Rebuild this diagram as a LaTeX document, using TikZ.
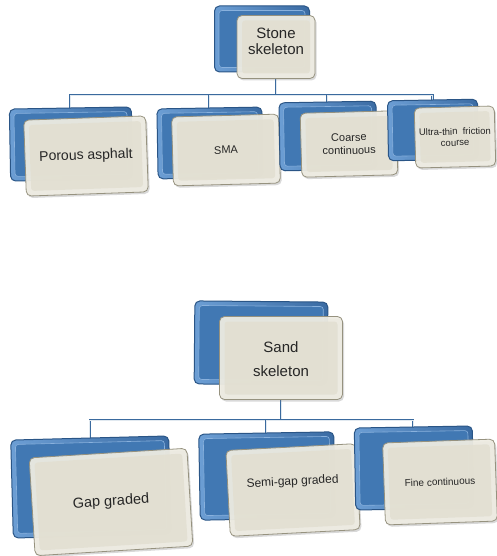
\documentclass[tikz,border=0pt]{standalone}
\usepackage{fontspec}
\setmainfont{Liberation Sans}
\usetikzlibrary{shadows,backgrounds}

\definecolor{rim}{HTML}{2A5586}
\definecolor{blueA}{HTML}{6C9ED4}
\definecolor{blueB}{HTML}{3A6BA3}
\definecolor{blueIn}{HTML}{4178B3}
\definecolor{paper}{HTML}{EEECE2}
\definecolor{paperIn}{HTML}{E2DFD1}
\definecolor{paperRim}{HTML}{96927F}
\definecolor{wire}{HTML}{3A6A9E}

\tikzset{
  backouter/.style={draw=rim, line width=1pt, left color=blueA, right color=blueB,
    rounded corners=5pt, inner sep=0pt},
  backinner/.style={fill=blueIn, draw=blueA!80!white, line width=0.6pt, rounded corners=3pt, inner sep=0pt},
  frontouter/.style={draw=paperRim, line width=0.8pt, fill=paper, fill opacity=0.94,
    rounded corners=5pt, inner sep=0pt,
    drop shadow={shadow xshift=1.5pt, shadow yshift=-2pt, opacity=0.3}},
  frontinner/.style={fill=paperIn, fill opacity=0.85, rounded corners=3pt, inner sep=0pt},
  label/.style={align=center, text=black!85, inner sep=0pt},
  link/.style={draw=wire, line width=0.7pt, double=white!85!wire, double distance=0.7pt},
}

% back panel: name, x, y, width, height, rotation
\newcommand\backbox[6]{%
  \node[backouter, minimum width=#4pt, minimum height=#5pt, rotate=#6] (#1) at (#2,#3) {};
  \node[backinner, minimum width=#4pt-9pt, minimum height=#5pt-9pt, rotate=#6] (#1-in) at (#2,#3) {};
}
% front card: name, x, y, width, height, rotation, font, text lift, text
\newcommand\frontbox[9]{%
  \node[frontouter, minimum width=#4pt, minimum height=#5pt, rotate=#6] (#1) at (#2,#3) {};
  \node[frontinner, minimum width=#4pt-10pt, minimum height=#5pt-10pt, rotate=#6] (#1-in) at (#2,#3) {};
  \node[label, font=#7, rotate=#6, yshift=#8pt] (#1-t) at (#2,#3) {#9};
}

\begin{document}
\begin{tikzpicture}[x=1pt, y=-1pt]
\useasboundingbox (0,0) rectangle (497,556);

% ---------- stone skeleton family ----------
\backbox{stoneB}{262}{39}{95}{66}{0}
\frontbox{stone}{276}{47}{78}{63}{0}{\fontsize{15}{16}\selectfont}{6}{Stone\\skeleton}

\backbox{porousB}{71}{144}{122}{72}{1}
\frontbox{porous}{86}{156}{122}{76}{2}{\fontsize{14}{16}\selectfont}{0}{Porous asphalt}

\backbox{smaB}{210}{143}{105}{70}{1}
\frontbox{sma}{226}{150}{107}{69}{1.5}{\fontsize{11}{13}\selectfont}{0}{SMA}

\backbox{coarseB}{328}{136}{97}{68}{1}
\frontbox{coarse}{349}{144}{96}{64}{1.5}{\fontsize{11}{13}\selectfont}{0}{Coarse\\continuous}

\backbox{ultraB}{433}{130}{90}{60}{1}
\frontbox{ultra}{455}{137}{80}{60}{1.5}{\fontsize{9.5}{11}\selectfont}{0}{Ultra-thin\ \ friction\\course}

% ---------- sand skeleton family ----------
\backbox{sandB}{261}{343}{133}{83}{-0.5}
\frontbox{sand}{281}{358}{123}{83}{0}{\fontsize{15}{24}\selectfont}{-1}{Sand\\skeleton}

\backbox{gapB}{91}{487}{158}{98}{1.5}
\frontbox{gap}{111}{502}{158}{98}{3.5}{\fontsize{14.5}{16}\selectfont}{0}{Gap graded}

\backbox{semiB}{267}{476}{135}{86}{1}
\frontbox{semi}{293}{490}{130}{86}{3}{\fontsize{12}{14}\selectfont}{8}{Semi-gap graded}

\backbox{fineB}{414}{468}{118}{82}{1}
\frontbox{fine}{440}{482}{112}{82}{2}{\fontsize{10}{12}\selectfont}{0}{Fine continuous}

% ---------- connectors ----------
\begin{scope}[on background layer]
  \coordinate (busA) at (0,95);
  \coordinate (busB) at (0,420);
  \draw[link] (stone.south) -- (stone.south |- busA);
  \draw[link] (porousB.north) -- (porousB.north |- busA) -- (ultraB.north |- busA) -- (ultraB.north);
  \draw[link] (smaB.north) -- (smaB.north |- busA);
  \draw[link] (coarseB.north) -- (coarseB.north |- busA);

  \draw[link] (sand.south) -- (sand.south |- busB);
  \draw[link] (gapB.north) -- (gapB.north |- busB) -- (fineB.north |- busB) -- (fineB.north);
  \draw[link] (semiB.north) -- (semiB.north |- busB);
\end{scope}
\end{tikzpicture}
\end{document}
